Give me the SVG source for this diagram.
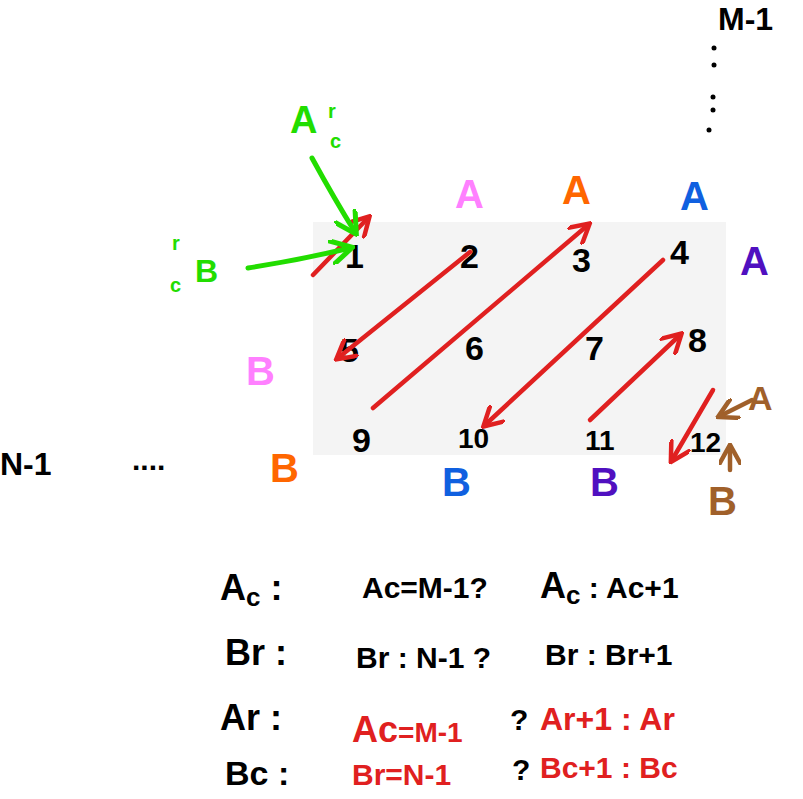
<svg xmlns="http://www.w3.org/2000/svg" width="803" height="799" viewBox="0 0 803 799">
<style>
text{font-family:"Liberation Sans",Arial,sans-serif;font-weight:bold}
.n{font-size:34px;fill:#000}
.r{stroke:#e02020;stroke-width:4.5;fill:none;stroke-linecap:round;stroke-linejoin:round}
.g{stroke:#22dd00;stroke-width:5;fill:none;stroke-linecap:round;stroke-linejoin:round}
.br{stroke:#a0602a;stroke-width:4.5;fill:none;stroke-linecap:round;stroke-linejoin:round}
.L{font-size:40px}
</style>
<defs>
<marker id="ar" viewBox="0 0 10 10" refX="8" refY="5" markerWidth="5" markerHeight="5" orient="auto"><path d="M0,0 L9,5 L0,10" fill="none" stroke="#e02020" stroke-width="2"/></marker>
<marker id="ag" viewBox="0 0 10 10" refX="8" refY="5" markerWidth="5" markerHeight="5" orient="auto"><path d="M0,0 L9,5 L0,10" fill="none" stroke="#22dd00" stroke-width="2"/></marker>
<marker id="ab" viewBox="0 0 10 10" refX="8" refY="5" markerWidth="5" markerHeight="5" orient="auto"><path d="M0,0 L9,5 L0,10" fill="none" stroke="#a0602a" stroke-width="2"/></marker>
</defs>
<rect x="313" y="222" width="413" height="233" fill="#f4f4f4"/>
<g id="cells">
<text class="n" x="345" y="268">1</text>
<text class="n" x="460" y="268">2</text>
<text class="n" x="572" y="272">3</text>
<text class="n" x="670" y="264">4</text>
<text class="n" x="340" y="362">5</text>
<text class="n" x="465" y="360">6</text>
<text class="n" x="585" y="360">7</text>
<text class="n" x="688" y="352">8</text>
<text class="n" x="352" y="452">9</text>
<text class="n" x="458" y="448" style="font-size:28px">10</text>
<text class="n" x="585" y="450" style="font-size:28px">11</text>
<text class="n" x="690" y="452" style="font-size:28px">12</text>
</g>
<g id="connectors">
<path class="r" d="M313,275 L368,218" marker-end="url(#ar)"/>
<path class="r" d="M470,252 L338,358" marker-end="url(#ar)"/>
<path class="r" d="M373,408 L588,225" marker-end="url(#ar)"/>
<path class="r" d="M663,260 L485,425" marker-end="url(#ar)"/>
<path class="r" d="M590,420 L680,335" marker-end="url(#ar)"/>
<path class="r" d="M713,390 L672,460" marker-end="url(#ar)"/>
<path class="g" d="M312,158 Q335,200 355,232" marker-end="url(#ag)"/>
<path class="g" d="M248,268 Q300,260 350,248" marker-end="url(#ag)"/>
<path class="br" d="M752,400 L720,416" marker-end="url(#ab)"/>
<path class="br" d="M730,470 L730,447" marker-end="url(#ab)"/>
</g>
<g id="labels">
<text class="L" x="455" y="208" fill="#ff80ff">A</text>
<text class="L" x="562" y="204" fill="#ff6600">A</text>
<text class="L" x="680" y="210" fill="#1060e0">A</text>
<text class="L" x="740" y="275" fill="#5010c0">A</text>
<text class="L" x="246" y="385" fill="#ff80ff">B</text>
<text class="L" x="270" y="482" fill="#ff6600">B</text>
<text class="L" x="442" y="496" fill="#1060e0">B</text>
<text class="L" x="590" y="496" fill="#5010c0">B</text>
<text class="L" x="748" y="410" fill="#a0602a" style="font-size:34px">A</text>
<text class="L" x="708" y="515" fill="#a0602a">B</text>
<text x="290" y="133" fill="#22dd00" style="font-size:38px">A</text>
<text x="328" y="118" fill="#22dd00" style="font-size:20px">r</text>
<text x="330" y="148" fill="#22dd00" style="font-size:20px">c</text>
<text x="195" y="282" fill="#22dd00" style="font-size:32px">B</text>
<text x="172" y="250" fill="#22dd00" style="font-size:20px">r</text>
<text x="170" y="292" fill="#22dd00" style="font-size:20px">c</text>
<text x="0" y="475" style="font-size:32px">N-1</text>
<text x="132" y="470" style="font-size:30px">....</text>
<text x="718" y="30" style="font-size:32px">M-1</text>
<g fill="#000"><circle cx="714" cy="48" r="2.5"/><circle cx="714" cy="65" r="2.5"/><circle cx="713" cy="97" r="2.5"/><circle cx="713" cy="110" r="2.5"/><circle cx="709" cy="130" r="2.5"/></g>
</g>
<g id="formulas" style="font-size:36px">
<text x="220" y="600">A<tspan style="font-size:26px" dy="6">c</tspan><tspan dy="-6"> :</tspan></text>
<text x="362" y="598" style="font-size:30px">Ac=M-1?</text>
<text x="540" y="598">A<tspan style="font-size:26px" dy="6">c</tspan><tspan dy="-6" style="font-size:30px">  :  Ac+1</tspan></text>
<text x="225" y="665">Br :</text>
<text x="356" y="668" style="font-size:30px">Br : N-1 ?</text>
<text x="545" y="665" style="font-size:30px">Br   :  Br+1</text>
<text x="220" y="730">Ar :</text>
<text x="352" y="742" fill="#e02020" style="font-size:36px">Ac<tspan style="font-size:28px">=M-1</tspan></text>
<text x="510" y="730" style="font-size:30px">?</text>
<text x="540" y="730" fill="#e02020" style="font-size:32px">Ar+1 : Ar</text>
<text x="225" y="785" style="font-size:34px">Bc :</text>
<text x="352" y="785" fill="#e02020" style="font-size:30px">Br=N-1</text>
<text x="512" y="780" style="font-size:30px">?</text>
<text x="540" y="778" fill="#e02020" style="font-size:30px">Bc+1  : Bc</text>
</g>
</svg>
